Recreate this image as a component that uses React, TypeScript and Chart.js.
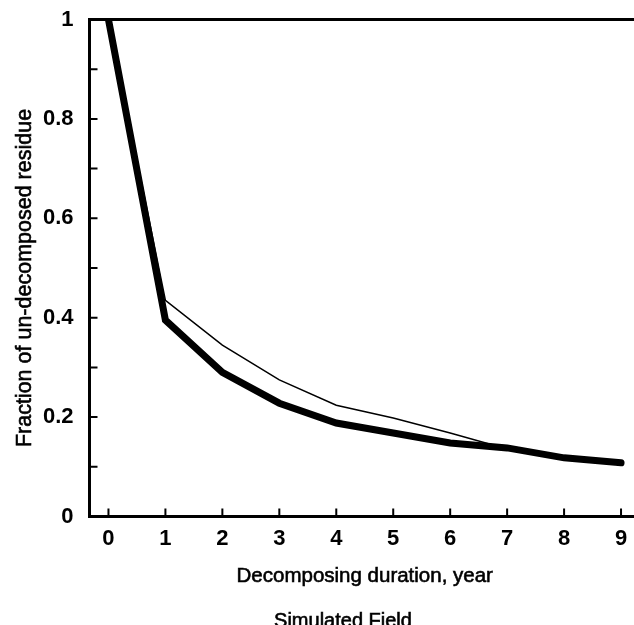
import React, { useEffect, useRef } from "react";
import { Chart, registerables } from "chart.js";

Chart.register(...registerables);

const years = [0, 1, 2, 3, 4, 5, 6, 7, 8, 9];
const simulatedThick = [1, 0.395, 0.29, 0.228, 0.188, 0.168, 0.148, 0.138, 0.118, 0.108];
const fieldThin = [1, 0.435, 0.345, 0.275, 0.224, 0.198, 0.168, 0.136, 0.118, 0.108];
const xTickValues = [0, 1, 2, 3, 4, 5, 6, 7, 8, 9];
const yTickValues = [0, 0.1, 0.2, 0.3, 0.4, 0.5, 0.6, 0.7, 0.8, 0.9, 1];
const yLabelValues = ["0", "", "0.2", "", "0.4", "", "0.6", "", "0.8", "", "1"];
const xTitle = "Decomposing duration, year";
const yTitle = "Fraction of un-decomposed residue";
const footText = "Simulated Field";

const FONT = "'Liberation Sans', Arial, sans-serif";
const W = 660;
const H = 640;

function heavyText(ctx: CanvasRenderingContext2D, t: string, x: number, y: number) {
  ctx.fillText(t, x, y);
  ctx.lineWidth = 0.6;
  ctx.strokeText(t, x, y);
}

const framePlugin = {
  id: "frame",
  afterDraw(chart: any) {
    const { ctx, chartArea, scales } = chart;
    const { left, top, right, bottom } = chartArea;
    ctx.save();
    ctx.strokeStyle = "#000";
    ctx.lineWidth = 3;
    ctx.strokeRect(left, top, right - left, bottom - top);
    ctx.lineWidth = 2;
    ctx.beginPath();
    yTickValues.forEach((v) => {
      const y = scales.y.getPixelForValue(v);
      ctx.moveTo(left, y);
      ctx.lineTo(left + 8, y);
    });
    xTickValues.forEach((v) => {
      const x = scales.x.getPixelForValue(v);
      ctx.moveTo(x, bottom);
      ctx.lineTo(x, bottom - 8);
    });
    ctx.stroke();

    ctx.fillStyle = "#000";
    ctx.textAlign = "center";
    ctx.textBaseline = "alphabetic";
    ctx.font = `20.5px ${FONT}`;
    heavyText(ctx, xTitle, (left + right) / 2, 582);
    ctx.font = `20px ${FONT}`;
    heavyText(ctx, footText, 343, 627);

    ctx.translate(31, 278);
    ctx.rotate(-Math.PI / 2);
    ctx.font = `21.5px ${FONT}`;
    heavyText(ctx, yTitle, 0, 0);
    ctx.restore();
  },
};

export default function App() {
  const ref = useRef<HTMLCanvasElement | null>(null);

  useEffect(() => {
    if (!ref.current) return;
    const chart = new Chart(ref.current, {
      type: "line",
      data: {
        labels: years,
        datasets: [
          {
            label: "Simulated",
            data: years.map((x, i) => ({ x, y: simulatedThick[i] })),
            borderColor: "#000",
            borderWidth: 7,
            borderCapStyle: "round",
            pointRadius: 0,
            tension: 0,
            order: 0,
          },
          {
            label: "Field",
            data: years.map((x, i) => ({ x, y: fieldThin[i] })),
            borderColor: "#000",
            borderWidth: 1.5,
            pointRadius: 0,
            tension: 0,
            order: 1,
          },
        ],
      },
      options: {
        responsive: false,
        animation: false,
        layout: { padding: { left: 0, top: 19.5, right: 20, bottom: 0 } },
        plugins: { legend: { display: false }, tooltip: { enabled: false } },
        scales: {
          x: {
            type: "linear",
            min: -0.333,
            max: 9.333,
            grid: { display: false, drawTicks: false },
            border: { display: false },
            afterBuildTicks: (s: any) => {
              s.ticks = xTickValues.map((v) => ({ value: v }));
            },
            afterFit: (s: any) => {
              s.height = H - 516.5;
              s.paddingLeft = 0;
              s.paddingRight = 0;
            },
            ticks: {
              padding: 9,
              color: "#000",
              font: { family: FONT, size: 22, weight: "bold" },
              callback: (v: any) => String(v),
              maxRotation: 0,
              autoSkip: false,
            },
          },
          y: {
            min: 0,
            max: 1,
            grid: { display: false, drawTicks: false },
            border: { display: false },
            afterBuildTicks: (s: any) => {
              s.ticks = yTickValues.map((v) => ({ value: v }));
            },
            afterFit: (s: any) => {
              s.width = 89.5;
              s.paddingTop = 0;
              s.paddingBottom = 0;
            },
            ticks: {
              padding: 16,
              color: "#000",
              font: { family: FONT, size: 22, weight: "bold" },
              callback: (_v: any, i: number) => yLabelValues[i],
              autoSkip: false,
            },
          },
        },
      },
      plugins: [framePlugin],
    } as any);
    return () => chart.destroy();
  }, []);

  return (
    <div
      style={{
        position: "fixed",
        left: 0,
        top: 0,
        width: 634,
        height: 625,
        overflow: "hidden",
        background: "#fff",
      }}
    >
      <canvas ref={ref} width={W} height={H} style={{ width: W, height: H, display: "block" }} />
    </div>
  );
}
